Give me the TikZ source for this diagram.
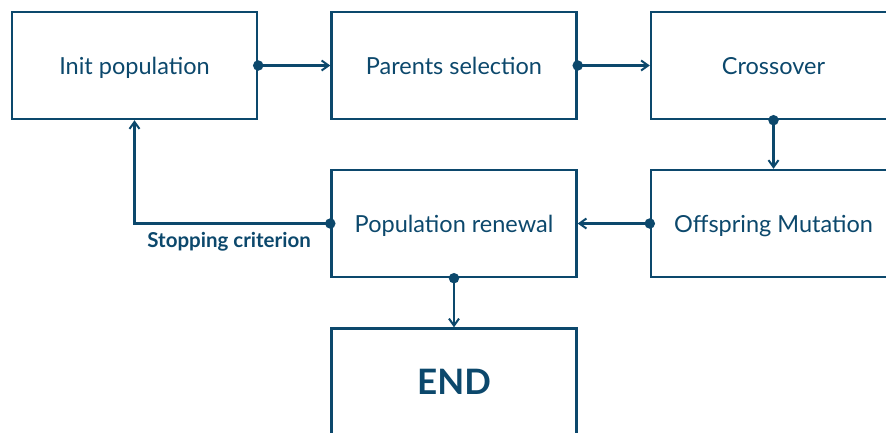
\documentclass[tikz,border=0pt]{standalone}
\usepackage{fontspec}
\setmainfont{Lato}
\usetikzlibrary{arrows.meta}
\definecolor{navy}{HTML}{0C486C}
\begin{document}
\begin{tikzpicture}[x=1pt,y=-1pt,
  box/.style={draw=navy,line width=2.4pt,minimum width=245pt,minimum height=107pt,inner sep=0pt,text=navy,text height=17pt,text depth=0pt,font=\fontsize{23.5}{26}\selectfont},
  conn/.style={draw=navy,line width=2.4pt,-{Straight Barb[length=7pt,width=10pt,line width=2pt]}},
  dot/.style={circle,fill=navy,inner sep=0pt,minimum size=10.5pt}]
\useasboundingbox (0,0) rectangle (886,432);
\clip (0,0) rectangle (886,432);
\node[box] (init) at (134.5,65.5) {Init population};
\node[box] (par) at (454,65.5) {Parents selection};
\node[box] (cross) at (773.5,65.5) {Crossover};
\node[box] (mut) at (773.5,223.5) {Offspring Mutation};
\node[box] (ren) at (454,223.5) {Population renewal};
\node[box,text height=25pt,font=\fontsize{35}{38}\selectfont\bfseries] (end) at (454,382) {END};
\coordinate (corner) at (init.south |- ren.west);
\draw[conn] (init.east) -- (par.west);
\draw[conn] (par.east) -- (cross.west);
\draw[conn] (cross.south) -- (mut.north);
\draw[conn] (mut.west) -- (ren.west -| mut.west) -- (ren.east);
\draw[conn] (ren.west) -- (corner) -- (init.south);
\draw[conn] (ren.south) -- (end.north);
\node[dot] (d1) at (init.east) {};
\node[dot] (d2) at (par.east) {};
\node[dot] (d3) at (cross.south) {};
\node[dot] (d4) at (mut.west) {};
\node[dot] (d5) at (ren.west) {};
\node[dot] (d6) at (ren.south) {};
\node[text=navy,font=\fontsize{20.5}{22}\selectfont\bfseries,anchor=base east,inner sep=0pt] (lbl) at (311,247) {Stopping criterion};
\end{tikzpicture}
\end{document}
